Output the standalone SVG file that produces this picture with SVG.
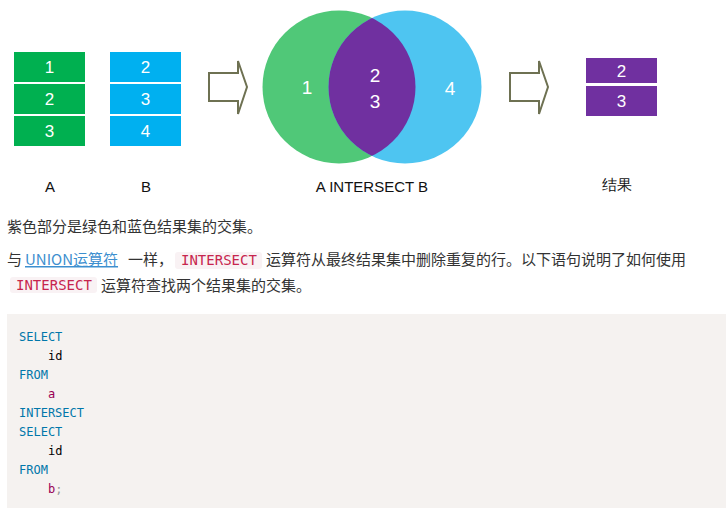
<svg xmlns="http://www.w3.org/2000/svg" width="726" height="508" viewBox="0 0 726 508">
<defs>
<clipPath id="clipA"><circle cx="339" cy="87" r="76.5"/></clipPath>
</defs>
<style>
.num{font-family:"Liberation Sans",Arial,sans-serif;font-size:17px;fill:#fff;text-anchor:middle}
.vnum{font-family:"Liberation Sans",Arial,sans-serif;font-size:19px;fill:#fff;text-anchor:middle}
.lbl{font-family:"Liberation Sans",Arial,sans-serif;font-size:15px;fill:#111;text-anchor:middle}
.cn{font-family:"Noto Sans CJK SC","Liberation Sans",sans-serif;font-size:15px;fill:#333}
.link{fill:#3d8fcf}
.arrow{fill:#fff;stroke:#6e7152;stroke-width:2}
.ic{fill:#f9f2f4}
.ict{font-family:"DejaVu Sans Mono",monospace;font-size:14px;fill:#c7254e}
.code{font-family:"DejaVu Sans Mono",monospace;font-size:12px}
.kw{fill:#07a}
.id{fill:#000}
.v{fill:#905}
.p{fill:#999}
.g{fill:#00b050}.b{fill:#00b0f0}.pu{fill:#7030a0}
</style>
<rect width="726" height="508" fill="#fff"/>
<g id="setA">
<rect class="g" x="14" y="52" width="71" height="30"/>
<rect class="g" x="14" y="84" width="71" height="30"/>
<rect class="g" x="14" y="116" width="71" height="30"/>
<text class="num" x="49.5" y="73">1</text>
<text class="num" x="49.5" y="105">2</text>
<text class="num" x="49.5" y="137">3</text>
<text class="lbl" x="50" y="192">A</text>
</g>
<g id="setB">
<rect class="b" x="110" y="52" width="71" height="30"/>
<rect class="b" x="110" y="84" width="71" height="30"/>
<rect class="b" x="110" y="116" width="71" height="30"/>
<text class="num" x="145.5" y="73">2</text>
<text class="num" x="145.5" y="105">3</text>
<text class="num" x="145.5" y="137">4</text>
<text class="lbl" x="146" y="192">B</text>
</g>
<g id="connectors">
<polygon class="arrow" points="209,73 238,73 238,61 247,87 238,114 238,101 209,101"/>
<polygon class="arrow" points="510,73 539,73 539,61 548,87 539,114 539,101 510,101"/>
</g>
<g id="venn">
<circle cx="339" cy="87" r="76.5" fill="#50c878"/>
<circle cx="405" cy="87" r="76.5" fill="#4ec5f1"/>
<circle cx="405" cy="87" r="76.5" fill="#7030a0" clip-path="url(#clipA)"/>
<text class="vnum" x="307" y="94">1</text>
<text class="vnum" x="375" y="82">2</text>
<text class="vnum" x="375" y="108">3</text>
<text class="vnum" x="450" y="95">4</text>
<text class="lbl" x="372" y="192" font-size="14.5">A INTERSECT B</text>
</g>
<g id="result">
<rect class="pu" x="586" y="58" width="71" height="25"/>
<rect class="pu" x="586" y="86" width="71" height="30"/>
<text class="num" x="621.5" y="77">2</text>
<text class="num" x="621.5" y="107">3</text>
<text class="lbl" x="617" y="190">结果</text>
</g>
<g id="paragraphs">
<text class="cn" x="7" y="232">紫色部分是绿色和蓝色结果集的交集。</text>
<text class="cn" x="7" y="265">与</text>
<text class="cn link" x="25" y="265" text-decoration="underline">UNION运算符</text>
<text class="cn" x="128" y="265">一样，</text>
<rect class="ic" x="175" y="252" width="87" height="17" rx="3"/>
<text class="ict" x="181" y="265">INTERSECT</text>
<text class="cn" x="266" y="265">运算符从最终结果集中删除重复的行。以下语句说明了如何使用</text>
<rect class="ic" x="10" y="277" width="87" height="16" rx="3"/>
<text class="ict" x="16" y="290">INTERSECT</text>
<text class="cn" x="101" y="291">运算符查找两个结果集的交集。</text>
</g>
<g id="codeblock">
<rect x="7" y="314" width="719" height="194" fill="#f5f2f0"/>
<text class="code kw" x="19" y="341">SELECT</text>
<text class="code id" x="48" y="360">id</text>
<text class="code kw" x="19" y="379">FROM</text>
<text class="code v" x="48" y="398">a</text>
<text class="code kw" x="19" y="417">INTERSECT</text>
<text class="code kw" x="19" y="436">SELECT</text>
<text class="code id" x="48" y="455">id</text>
<text class="code kw" x="19" y="474">FROM</text>
<text class="code" x="48" y="493"><tspan class="v">b</tspan><tspan class="p">;</tspan></text>
</g>
</svg>
